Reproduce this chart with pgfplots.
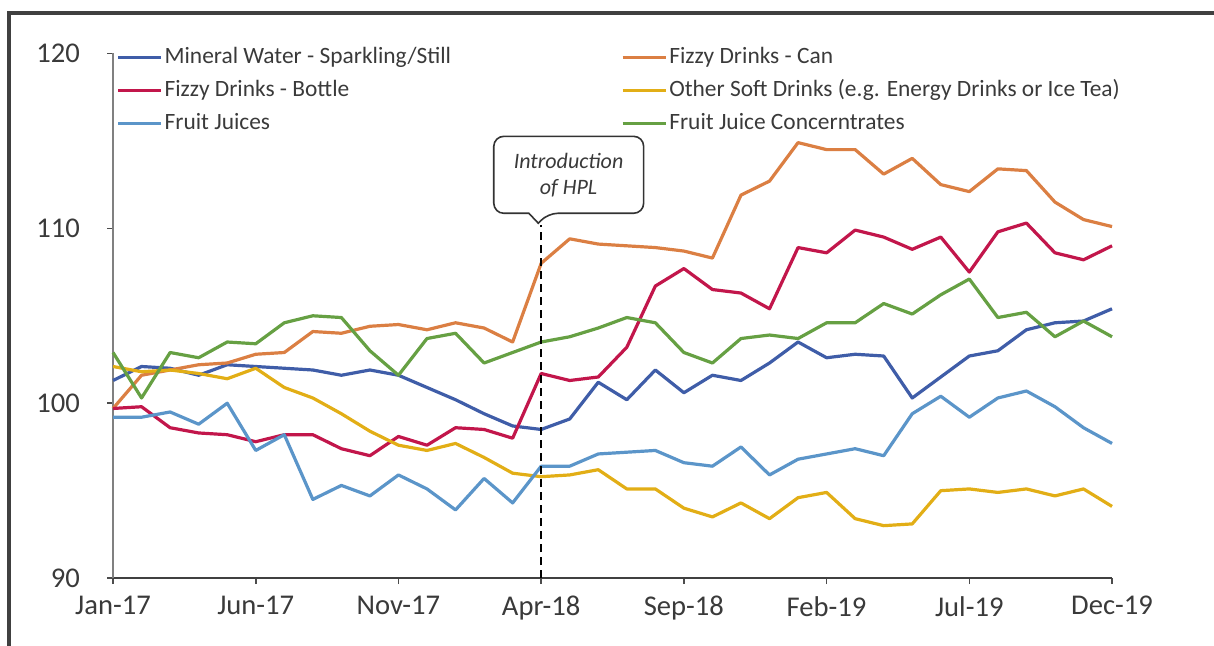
\documentclass[border=0pt]{standalone}
\usepackage{fontspec}
\setmainfont{Carlito}
\usepackage{pgfplots}
\pgfplotsset{compat=1.18}
\usepackage{pgfplotstable}

\definecolor{cMW}{HTML}{3F5DA8}
\definecolor{cCan}{HTML}{DB7F43}
\definecolor{cBot}{HTML}{C2164B}
\definecolor{cOth}{HTML}{E2AE16}
\definecolor{cFJ}{HTML}{5B95C9}
\definecolor{cFJC}{HTML}{66A043}
\definecolor{txt}{HTML}{3A3A3A}

\pgfplotstableread{
idx mw can bot oth fj fjc
0 101.3 99.7 99.7 102.1 99.2 102.9
1 102.1 101.6 99.8 101.8 99.2 100.3
2 102.0 101.9 98.6 101.9 99.5 102.9
3 101.6 102.2 98.3 101.7 98.8 102.6
4 102.2 102.3 98.2 101.4 100.0 103.5
5 102.1 102.8 97.8 102.0 97.3 103.4
6 102.0 102.9 98.2 100.9 98.2 104.6
7 101.9 104.1 98.2 100.3 94.5 105.0
8 101.6 104.0 97.4 99.4 95.3 104.9
9 101.9 104.4 97.0 98.4 94.7 103.0
10 101.6 104.5 98.1 97.6 95.9 101.6
11 100.9 104.2 97.6 97.3 95.1 103.7
12 100.2 104.6 98.6 97.7 93.9 104.0
13 99.4 104.3 98.5 96.9 95.7 102.3
14 98.7 103.5 98.0 96.0 94.3 102.9
15 98.5 108.0 101.7 95.8 96.4 103.5
16 99.1 109.4 101.3 95.9 96.4 103.8
17 101.2 109.1 101.5 96.2 97.1 104.3
18 100.2 109.0 103.2 95.1 97.2 104.9
19 101.9 108.9 106.7 95.1 97.3 104.6
20 100.6 108.7 107.7 94.0 96.6 102.9
21 101.6 108.3 106.5 93.5 96.4 102.3
22 101.3 111.9 106.3 94.3 97.5 103.7
23 102.3 112.7 105.4 93.4 95.9 103.9
24 103.5 114.9 108.9 94.6 96.8 103.7
25 102.6 114.5 108.6 94.9 97.1 104.6
26 102.8 114.5 109.9 93.4 97.4 104.6
27 102.7 113.1 109.5 93.0 97.0 105.7
28 100.3 114.0 108.8 93.1 99.4 105.1
29 101.5 112.5 109.5 95.0 100.4 106.2
30 102.7 112.1 107.5 95.1 99.2 107.1
31 103.0 113.4 109.8 94.9 100.3 104.9
32 104.2 113.3 110.3 95.1 100.7 105.2
33 104.6 111.5 108.6 94.7 99.8 103.8
34 104.7 110.5 108.2 95.1 98.6 104.7
35 105.4 110.1 109.0 94.1 97.7 103.8
}\data

\begin{document}
\begin{tikzpicture}[x=1pt,y=1pt]
\path[use as bounding box] (0,0) rectangle (607,323);
\draw[line width=1.7pt, black!75] (4.5,-5) -- (4.5,316.4) -- (615,316.4);
\begin{axis}[
  at={(39.6,38.8)}, anchor=south west,
  scale only axis, width=499.5pt, height=262.35pt,
  xmin=0, xmax=35, ymin=90, ymax=120,
  xtick={0,5,...,35},
  xticklabels={Jan-17,Jun-17,Nov-17,Apr-18,Sep-18,Feb-19,Jul-19,Dec-19},
  ytick={90,100,110,120},
  axis x line=bottom, axis y line=left,
  axis line style={-},
  x axis line style={black!75, line width=0.8pt},
  y axis line style={black!50, line width=0.8pt},
  tick align=outside, major tick length=3pt,
  tick style={black!70, line width=0.8pt},
  ticklabel style={font=\fontsize{14.3}{16}\selectfont, text=txt},
  yticklabel style={xshift=-10pt},
  xticklabel style={yshift=-2.5pt},
  /pgf/number format/assume math mode=true,
  clip=false,
  legend columns=2,
  legend cell align=left,
  legend style={at={(rel axis cs:0.003,1)}, anchor=north west, yshift=4.5pt,
    draw=none, fill=none, inner sep=0pt,
    font=\fontsize{11.7}{14}\selectfont, text=txt,
    nodes={inner sep=1pt, text height=8.5pt, text depth=2.5pt},
    row sep=3.4pt,
    /tikz/every even column/.append style={column sep=84pt}},
  legend image code/.code={\draw[#1, line width=1.6pt] (0pt,0pt) -- (21.5pt,0pt);},
  every axis plot/.append style={line width=1.6pt, line join=round},
]
\addplot[cMW] table[x=idx,y=mw] {\data};
\addlegendentry{Mineral Water - Sparkling/Still}
\addplot[cCan] table[x=idx,y=can] {\data};
\addlegendentry{Fizzy Drinks - Can}
\addplot[cBot] table[x=idx,y=bot] {\data};
\addlegendentry{Fizzy Drinks - Bottle}
\addplot[cOth] table[x=idx,y=oth] {\data};
\addlegendentry{Other Soft Drinks (e.g. Energy Drinks or Ice Tea)}
\addplot[cFJ] table[x=idx,y=fj] {\data};
\addlegendentry{Fruit Juices}
\addplot[cFJC] table[x=idx,y=fjc] {\data};
\addlegendentry{Fruit Juice Concerntrates}
\addplot[forget plot, black, line width=1pt, dash pattern=on 4pt off 2.5pt] coordinates {(15,90) (15,110.2)};
\draw[black!80, line width=0.8pt, fill=white, rounded corners=5pt]
  (axis cs:13.34,110.86) -- (axis cs:13.34,115.26) -- (axis cs:18.59,115.26) -- (axis cs:18.59,110.86)
  -- (axis cs:15.23,110.86) [sharp corners] -- (axis cs:14.9,110.29) -- (axis cs:14.57,110.86) [rounded corners=5pt] -- cycle;
\node[font=\fontsize{11}{13}\selectfont\itshape, text=txt, align=center] at (axis cs:15.96,113.06) {Introduction\\of HPL};
\end{axis}
\end{tikzpicture}
\end{document}
